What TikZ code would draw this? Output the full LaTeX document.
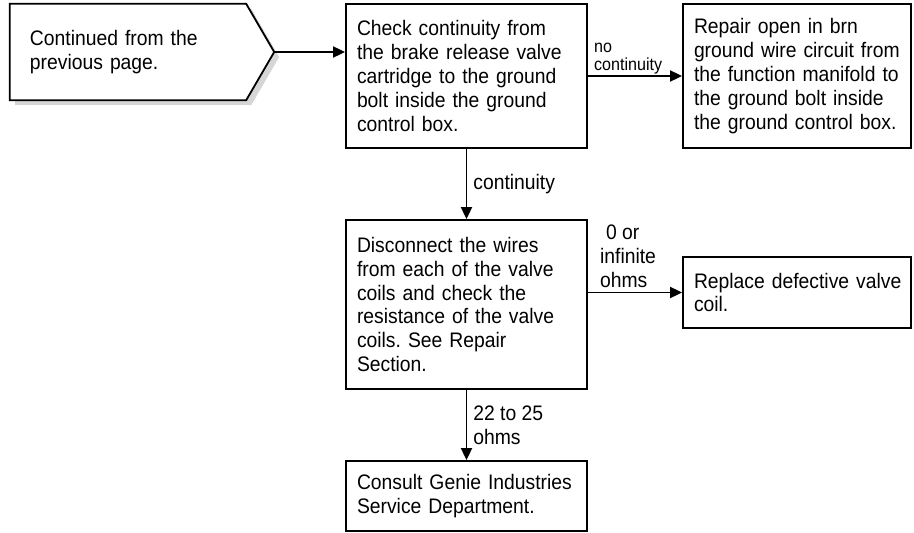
\documentclass[tikz,border=0pt]{standalone}
\usepackage{fontspec}
\setmainfont[FakeStretch=0.92]{Liberation Sans}
\usetikzlibrary{arrows.meta,calc,backgrounds}
\frenchspacing
\begin{document}
\begin{tikzpicture}[x=1pt,y=-1pt,
  box/.style={draw,line width=1.8pt,align=left,inner xsep=11pt,inner ysep=0pt,
    font=\frenchspacing\fontsize{21}{23.8}\selectfont},
  lbl/.style={align=left,inner sep=0pt,font=\frenchspacing\fontsize{21}{23.8}\selectfont},
  smalllbl/.style={align=left,inner sep=0pt,font=\fontsize{17.5}{18}\selectfont},
  conn/.style={line width=1.8pt,-{Triangle[length=12pt,width=11pt]}},
  shadowfill/.style={fill=black!16},
  pentagon/.style={draw,line width=1.8pt,fill=white,line join=miter}]
\useasboundingbox (0,0) rectangle (914,533);

% nodes
\node[lbl, text width=224pt, inner xsep=20pt, minimum height=96pt] (start) at (142,52)
  {Continued from the\\previous page.};
\node[box, text width=219pt, minimum height=144pt] (check) at (466.5,76)
  {Check continuity from\\the brake release valve\\cartridge to the ground\\bolt inside the ground\\control box.};
\node[box, text width=206pt, minimum height=144pt] (repair) at (797,76)
  {Repair open in brn\\\mbox{ground wire circuit from}\\\mbox{the function manifold to}\\the ground bolt inside\\\mbox{the ground control box.}};
\node[box, text width=219pt, minimum height=169pt] (disc) at (466.5,304.5)
  {Disconnect the wires\\from each of the valve\\coils and check the\\resistance of the valve\\coils. See Repair\\Section.};
\node[box, text width=206pt, minimum height=71pt] (replace) at (797,292.5)
  {\mbox{Replace defective valve}\\coil.};
\node[box, text width=219pt, minimum height=70pt] (consult) at (466.5,496)
  {\mbox{Consult Genie Industries}\\Service Department.};

% pentagon outline with shadow
\begin{scope}[on background layer]
  \fill[shadowfill] ($(start.north west)+(5,5)$) -- ($(start.north east)+(-23,5)$)
    -- ($(start.east)+(5,5)$) -- ($(start.south east)+(-23,5)$)
    -- ($(start.south west)+(5,5)$) -- cycle;
  \draw[pentagon] (start.north west) -- ($(start.north east)+(-28,0)$)
    -- (start.east) -- ($(start.south east)+(-28,0)$)
    -- (start.south west) -- cycle;
\end{scope}

% connectors
\draw[conn] (start.east) -- (start.east -| check.west);
\draw[conn] (check.east) -- (repair.west);
\node[smalllbl, anchor=south west] (nocont) at ($(check.east)+(6,-2)$) {no\\continuity};
\draw[conn] (check.south) -- (disc.north)
  node[lbl, midway, right=6pt] (contlbl) {continuity};
\draw[conn] (disc.east |- replace.west) -- (replace.west);
\node[lbl, anchor=south west] (ohmslbl) at ($(disc.east |- replace.west)+(12,-5)$)
  {\hspace*{6pt}0 or\\infinite\\ohms};
\draw[conn] (disc.south) -- (consult.north)
  node[lbl, midway, right=6pt] (okohms) {22 to 25\\ohms};
\end{tikzpicture}
\end{document}
